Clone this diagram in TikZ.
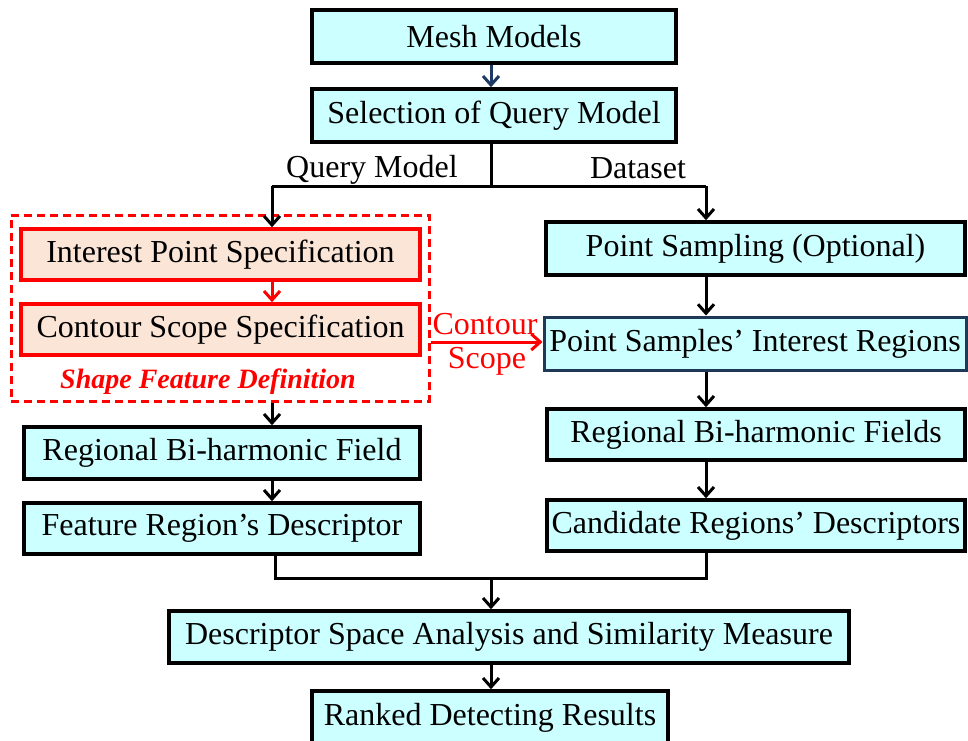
\documentclass[tikz,border=0pt]{standalone}
\usepackage{fontspec}
\setmainfont{Liberation Serif}
\usetikzlibrary{arrows.meta,calc}
\definecolor{boxcyan}{HTML}{CCFFFF}
\definecolor{boxpeach}{HTML}{FBE5D6}
\definecolor{navy}{HTML}{1F3A64}
\definecolor{slate}{HTML}{1F3858}
\tikzset{
  x=1pt, y=-1pt,
  every node/.style={font=\fontsize{32}{36}\selectfont, inner sep=0pt},
  stepbox/.style={draw=black, line width=3.5pt, fill=boxcyan, rectangle},
  specbox/.style={draw=red, line width=3.5pt, fill=boxpeach, rectangle},
  groupbox/.style={draw=red, line width=3pt, dash pattern=on 8pt off 5pt, rectangle},
  link/.style={line width=3pt, draw=black},
  arr/.style={link, -{Straight Barb[length=9pt,width=16pt,line width=3pt]}},
  rlabel/.style={text=red},
}
\begin{document}
\begin{tikzpicture}
\clip (0,0) rectangle (968,740);
\fill[white] (0,0) rectangle (968,740);

% top of the flow
\node[stepbox, minimum width=364, minimum height=53] (mesh) at (494,36.5) {Mesh Models};
\node[stepbox, minimum width=364, minimum height=53] (sel) at (494,115.5) {Selection of Query Model};

% query side
\node[groupbox, minimum width=418, minimum height=186] (sfd) at (220,308) {};
\node[specbox, minimum width=399, minimum height=51] (ips) at (220.5,254.5) {Interest Point Specification};
\node[specbox, minimum width=399, minimum height=51] (css) at (220.5,329.5) {Contour Scope Specification};
\node[text=red, font=\fontsize{28}{32}\selectfont\bfseries\itshape] (sfdl) at (208,382) {Shape Feature Definition};
\node[stepbox, minimum width=396, minimum height=52] (rbf) at (222,453) {Regional Bi-harmonic Field};
\node[stepbox, minimum width=396, minimum height=51] (frd) at (222,528.5) {Feature Region’s Descriptor};

% dataset side
\node[stepbox, minimum width=419, minimum height=53] (ps) at (755.5,248.5) {Point Sampling (Optional)};
\node[stepbox, draw=slate, line width=3pt, minimum width=422, minimum height=53] (psir) at (755,343.5) {Point Samples’ Interest Regions};
\node[stepbox, minimum width=418, minimum height=51] (rbfs) at (756,434.5) {Regional Bi-harmonic Fields};
\node[stepbox, minimum width=418, minimum height=51] (crd) at (756,525.5) {Candidate Regions’ Descriptors};

% bottom of the flow
\node[stepbox, minimum width=680, minimum height=52] (dsa) at (509,637) {Descriptor Space Analysis and Similarity Measure};
\node[stepbox, minimum width=356, minimum height=53] (rdr) at (490,717.5) {Ranked Detecting Results};

% branch labels
\node (ql) at (372,170) {Query Model};
\node (dl) at (638,168) {Dataset};
\node[rlabel] (ctr) at (485,324) {Contour};
\node[rlabel] (scp) at (487,361) {Scope};

% column and junction points
\coordinate (lc) at (272,186);
\coordinate (rc) at (706,186);
\coordinate (merge) at (491,578);

% connectors
\draw[arr, draw=navy] (mesh.south -| merge) -- (sel.north -| merge);
\draw[link] (sel.south -| merge) -- (lc -| merge);
\draw[link] (lc) -- (rc);
\draw[arr] (lc) -- (ips.north -| lc);
\draw[arr] (rc) -- (ps.north -| rc);
\draw[arr, draw=red] (ips.south -| lc) -- (css.north -| lc);
\draw[arr] (sfd.south -| lc) -- (rbf.north -| lc);
\draw[arr] (rbf.south -| lc) -- (frd.north -| lc);
\draw[arr] (ps.south -| rc) -- (psir.north -| rc);
\draw[arr] (psir.south -| rc) -- (rbfs.north -| rc);
\draw[arr] (rbfs.south -| rc) -- (crd.north -| rc);
\draw[arr, draw=red] (sfd.east |- 0,342) -- (psir.west |- 0,342);
\draw[link] (frd.south -| 275,0) |- (merge) -| (crd.south -| rc);
\draw[arr] (merge) -- (dsa.north -| merge);
\draw[arr] (dsa.south -| merge) -- (rdr.north -| merge);
\end{tikzpicture}
\end{document}
